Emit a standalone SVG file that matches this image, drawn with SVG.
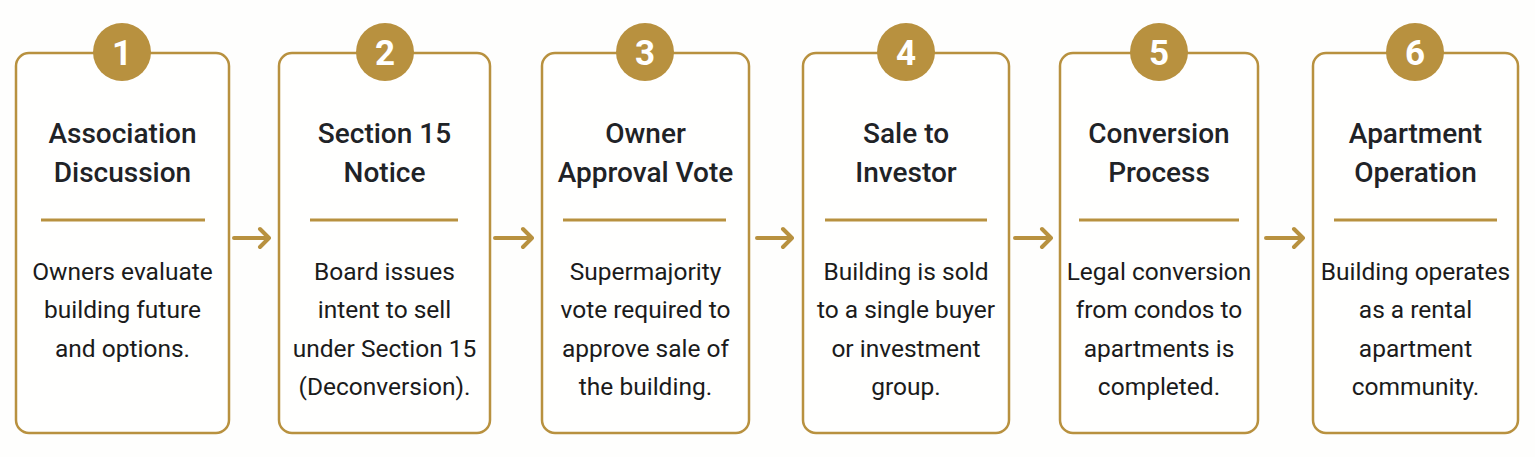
<svg xmlns="http://www.w3.org/2000/svg" width="1535" height="457" viewBox="0 0 1535 457">
<style>
.box{fill:#fffffe;stroke:#b8913f;stroke-width:2.5}
.badge{fill:#b8913f}
.num{font-family:Roboto,"Liberation Sans",sans-serif;font-weight:700;font-size:35px;fill:#ffffff;text-anchor:middle}
.title{font-family:Roboto,"Liberation Sans",sans-serif;font-weight:500;font-size:28px;fill:#1f2327;text-anchor:middle}
.body{font-family:Roboto,"Liberation Sans",sans-serif;font-weight:400;font-size:24.5px;fill:#1b1b1b;text-anchor:middle}
.div{stroke:#b8913f;stroke-width:3}
.arr{fill:none;stroke:#b8913f;stroke-width:4;stroke-linecap:round;stroke-linejoin:round}
</style>
<rect width="1535" height="457" fill="#fefefd"/>
<g id="connectors">
<path class="arr" d="M234 238H269M260 229L269 238L260 247"/>
<path class="arr" d="M495 238H532M523 229L532 238L523 247"/>
<path class="arr" d="M757 238H792M783 229L792 238L783 247"/>
<path class="arr" d="M1015 238H1051M1042 229L1051 238L1042 247"/>
<path class="arr" d="M1266 238H1303M1294 229L1303 238L1294 247"/>
</g>
<g id="step1">
<rect class="box" x="16" y="53" width="213" height="380" rx="13"/>
<circle class="badge" cx="122" cy="52" r="29"/>
<text class="num" x="122" y="65">1</text>
<text class="title" x="122.5" y="143">Association</text>
<text class="title" x="122.5" y="182">Discussion</text>
<line class="div" x1="41" y1="220" x2="205" y2="220"/>
<text class="body" x="122.5" y="280">Owners evaluate</text>
<text class="body" x="122.5" y="318">building future</text>
<text class="body" x="122.5" y="357">and options.</text>
</g>
<g id="step2">
<rect class="box" x="279" y="53" width="211" height="380" rx="13"/>
<circle class="badge" cx="385" cy="52" r="29"/>
<text class="num" x="385" y="65">2</text>
<text class="title" x="384.5" y="143">Section 15</text>
<text class="title" x="384.5" y="182">Notice</text>
<line class="div" x1="310" y1="220" x2="458" y2="220"/>
<text class="body" x="384.5" y="280">Board issues</text>
<text class="body" x="384.5" y="318">intent to sell</text>
<text class="body" x="384.5" y="357">under Section 15</text>
<text class="body" x="384.5" y="395">(Deconversion).</text>
</g>
<g id="step3">
<rect class="box" x="542" y="53" width="207" height="380" rx="13"/>
<circle class="badge" cx="645" cy="52" r="29"/>
<text class="num" x="645" y="65">3</text>
<text class="title" x="645.5" y="143">Owner</text>
<text class="title" x="645.5" y="182">Approval Vote</text>
<line class="div" x1="563" y1="220" x2="726" y2="220"/>
<text class="body" x="645.5" y="280">Supermajority</text>
<text class="body" x="645.5" y="318">vote required to</text>
<text class="body" x="645.5" y="357">approve sale of</text>
<text class="body" x="645.5" y="395">the building.</text>
</g>
<g id="step4">
<rect class="box" x="803" y="53" width="206" height="380" rx="13"/>
<circle class="badge" cx="906" cy="52" r="29"/>
<text class="num" x="906" y="65">4</text>
<text class="title" x="906" y="143">Sale to</text>
<text class="title" x="906" y="182">Investor</text>
<line class="div" x1="825" y1="220" x2="987" y2="220"/>
<text class="body" x="906" y="280">Building is sold</text>
<text class="body" x="906" y="318">to a single buyer</text>
<text class="body" x="906" y="357">or investment</text>
<text class="body" x="906" y="395">group.</text>
</g>
<g id="step5">
<rect class="box" x="1060" y="53" width="198" height="380" rx="13"/>
<circle class="badge" cx="1159" cy="52" r="29"/>
<text class="num" x="1159" y="65">5</text>
<text class="title" x="1159" y="143">Conversion</text>
<text class="title" x="1159" y="182">Process</text>
<line class="div" x1="1079" y1="220" x2="1239" y2="220"/>
<text class="body" x="1159" y="280">Legal conversion</text>
<text class="body" x="1159" y="318">from condos to</text>
<text class="body" x="1159" y="357">apartments is</text>
<text class="body" x="1159" y="395">completed.</text>
</g>
<g id="step6">
<rect class="box" x="1313" y="53" width="205" height="380" rx="13"/>
<circle class="badge" cx="1415" cy="52" r="29"/>
<text class="num" x="1415" y="65">6</text>
<text class="title" x="1415.5" y="143">Apartment</text>
<text class="title" x="1415.5" y="182">Operation</text>
<line class="div" x1="1334" y1="220" x2="1497" y2="220"/>
<text class="body" x="1415.5" y="280">Building operates</text>
<text class="body" x="1415.5" y="318">as a rental</text>
<text class="body" x="1415.5" y="357">apartment</text>
<text class="body" x="1415.5" y="395">community.</text>
</g>
</svg>
